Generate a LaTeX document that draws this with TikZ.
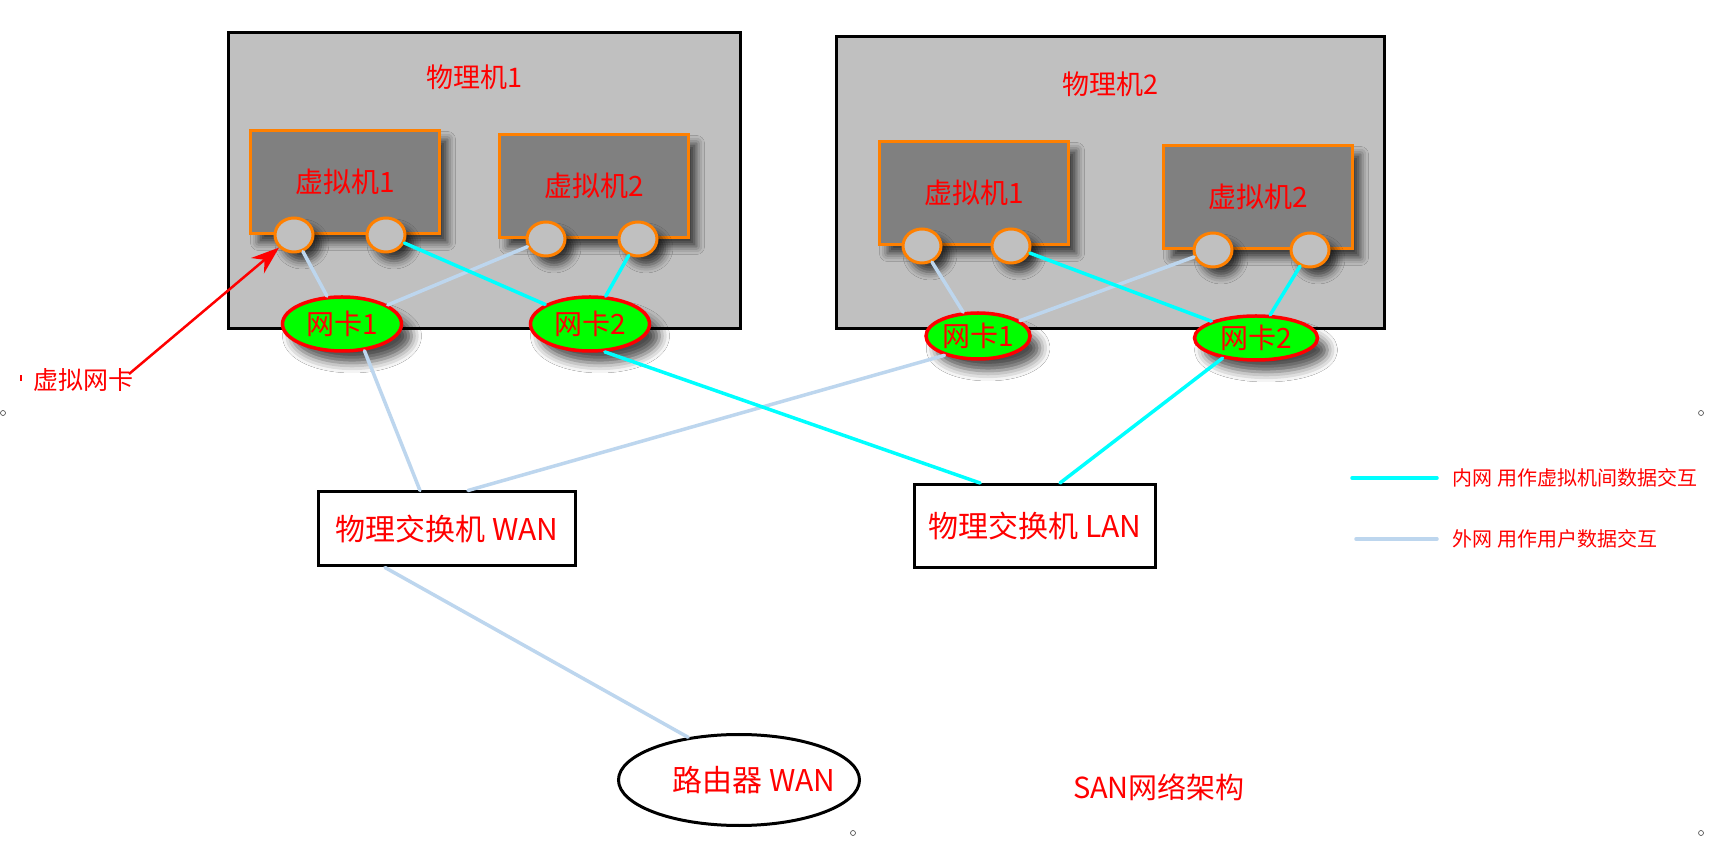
\documentclass[tikz,border=0pt]{standalone}
\usepackage{fontspec}
\setmainfont{Noto Sans CJK SC}
\usepackage{xcolor}
\usepackage{tikz}
\usetikzlibrary{shapes.geometric, arrows.meta, positioning, shadows.blur}
\definecolor{pmgray}{RGB}{192,192,192}
\definecolor{vmgray}{RGB}{128,128,128}
\definecolor{vmorange}{RGB}{255,128,0}
\definecolor{wanblue}{RGB}{189,214,238}
\definecolor{lancyan}{RGB}{0,255,255}
\definecolor{nicgreen}{RGB}{0,255,0}
\tikzstyle{host}    = [rectangle, draw=black, line width=3pt, fill=pmgray]
\tikzstyle{vm}      = [rectangle, draw=vmorange, line width=3pt, fill=vmgray, minimum width=189pt, minimum height=103pt,
                       font=\fontsize{28}{33}\selectfont,
                       blur shadow={shadow xshift=8pt, shadow yshift=-9pt, shadow blur radius=8pt, shadow opacity=70}]
\tikzstyle{port}    = [ellipse, draw=vmorange, line width=3pt, fill=pmgray, minimum width=38pt, minimum height=34pt, inner sep=0pt,
                       blur shadow={shadow xshift=8pt, shadow yshift=-9pt, shadow blur radius=8pt, shadow opacity=70}]
\tikzstyle{nic}     = [ellipse, draw=red, line width=3.5pt, fill=nicgreen, minimum width=119pt, minimum height=54pt, inner sep=0pt,
                       font=\fontsize{28}{33}\selectfont,
                       blur shadow={shadow xshift=10pt, shadow yshift=-12pt, shadow blur radius=10pt, shadow opacity=70}]
\tikzstyle{switch}  = [rectangle, draw=black, line width=3pt, fill=white, minimum height=74pt, font=\fontsize{30}{36}\selectfont]
\tikzstyle{router}  = [ellipse, draw=black, line width=3pt, fill=white, minimum width=241pt, minimum height=91pt, inner sep=0pt,
                       font=\fontsize{30}{36}\selectfont]
\tikzstyle{handle}  = [circle, draw=black!75, line width=0.6pt, minimum size=5pt, inner sep=0pt]
\tikzstyle{wan}     = [line width=3.5pt, draw=wanblue, line cap=round]
\tikzstyle{lan}     = [line width=3.5pt, draw=lancyan, line cap=round]
\tikzstyle{arrow}   = [line width=2.5pt, red, -{Stealth[length=28pt, width=20pt]}]
\tikzset{every node/.style={align=center, text=red, font=\fontsize{27}{32}\selectfont}}

\begin{document}
\begin{tikzpicture}[x=1pt, y=1pt, node distance=248pt]
    \useasboundingbox (0,0) rectangle (1726,846);
    \fill[white] (0,0) rectangle (1726,846);

    % physical machines
    \node[host, minimum width=512pt, minimum height=296pt] (pm1) at (484,665)  {};
    \node[host, minimum width=548pt, minimum height=292pt] (pm2) at (1110,663) {};
    \node (pm1title) at ([xshift=-10pt, yshift=-46pt]pm1.north) {物理机1};
    \node (pm2title) at ([yshift=-49pt]pm2.north) {物理机2};

    \node[vm] (vm1a) at (345,664) {虚拟机1};
    \node[vm] (vm2a) at (594,660) {虚拟机2};
    \node[vm] (vm1b) at (974,653) {虚拟机1};
    \node[vm] (vm2b) at (1258,649) {虚拟机2};

    \node[port] (vm1a-p1) at ([xshift=-51pt]vm1a.south) {};
    \node[port] (vm1a-p2) at ([xshift=41pt]vm1a.south)  {};
    \node[port] (vm2a-p1) at ([xshift=-48pt]vm2a.south) {};
    \node[port] (vm2a-p2) at ([xshift=44pt]vm2a.south)  {};
    \node[port] (vm1b-p1) at ([xshift=-52pt]vm1b.south) {};
    \node[port] (vm1b-p2) at ([xshift=37pt]vm1b.south)  {};
    \node[port] (vm2b-p1) at ([xshift=-45pt]vm2b.south) {};
    \node[port] (vm2b-p2) at ([xshift=52pt]vm2b.south)  {};

    \node[nic] (nic1a) at (342,522) {网卡1};
    \node[nic] (nic2a) [right of=nic1a] {网卡2};
    \node[nic, minimum width=104pt, minimum height=46pt] (nic1b) at (978,510)  {网卡1};
    \node[nic, minimum width=123pt, minimum height=44pt] (nic2b) at (1256,508) {网卡2};

    % switches and router
    \node[switch, minimum width=257pt] (swwan) at (447,317) {物理交换机 WAN};
    \node[switch, minimum width=241pt, minimum height=83pt] (swlan) at (1035,320) {物理交换机 LAN};
    \node[router] (router) at (739,66) {\makebox[0pt]{\hspace*{30pt}路由器 WAN}};
    \node[font=\fontsize{29}{34}\selectfont] (title) at (1159,59) {SAN网络架构};

    % links inside the hosts
    \draw[wan] (vm1a-p1) -- (nic1a);
    \draw[wan] (vm2a-p1) -- (nic1a);
    \draw[lan] (vm1a-p2) -- (nic2a);
    \draw[lan] (vm2a-p2) -- (nic2a);
    \draw[wan] (vm1b-p1) -- (nic1b);
    \draw[wan] (vm2b-p1) -- (nic1b);
    \draw[lan] (vm1b-p2) -- (nic2b);
    \draw[lan] (vm2b-p2) -- (nic2b);

    % links to the switches
    \draw[wan] (nic1a.-50)  -- ([xshift=-27pt]swwan.north);
    \draw[wan] (nic1b.-150) -- ([xshift=21pt]swwan.north);
    \draw[lan] (nic2a.-62)  -- ([xshift=-55pt]swlan.north);
    \draw[lan] (nic2b.-149) -- ([xshift=25pt]swlan.north);
    \draw[wan] ([xshift=-62pt]swwan.south) -- (router.140);

    % virtual nic note
    \node[font=\fontsize{25}{30}\selectfont] (vnic) at (83,466) {虚拟网卡};
    \coordinate (vnictail) at (129,472);
    \draw[arrow] (vnictail) -- (vm1a-p1);
    \fill[red] (20,465) rectangle (22,471);

    % legend
    \coordinate (lanA) at (1352,368);
    \coordinate (lanB) at (1437,368);
    \coordinate (wanA) at (1356,307);
    \coordinate (wanB) at (1437,307);
    \draw[lan] (lanA) -- (lanB);
    \draw[wan] (wanA) -- (wanB);
    \node[anchor=west, font=\fontsize{20}{24}\selectfont] (lantext) [right=12pt of lanB] {内网 用作虚拟机间数据交互};
    \node[anchor=west, font=\fontsize{20}{24}\selectfont] (wantext) [right=12pt of wanB] {外网 用作用户数据交互};

    % handles
    \node[handle] (h1) at (3,433)    {};
    \node[handle] (h2) at (1701,433) {};
    \node[handle] (h3) at (853,13)   {};
    \node[handle] (h4) at (1701,13)  {};
\end{tikzpicture}
\end{document}
